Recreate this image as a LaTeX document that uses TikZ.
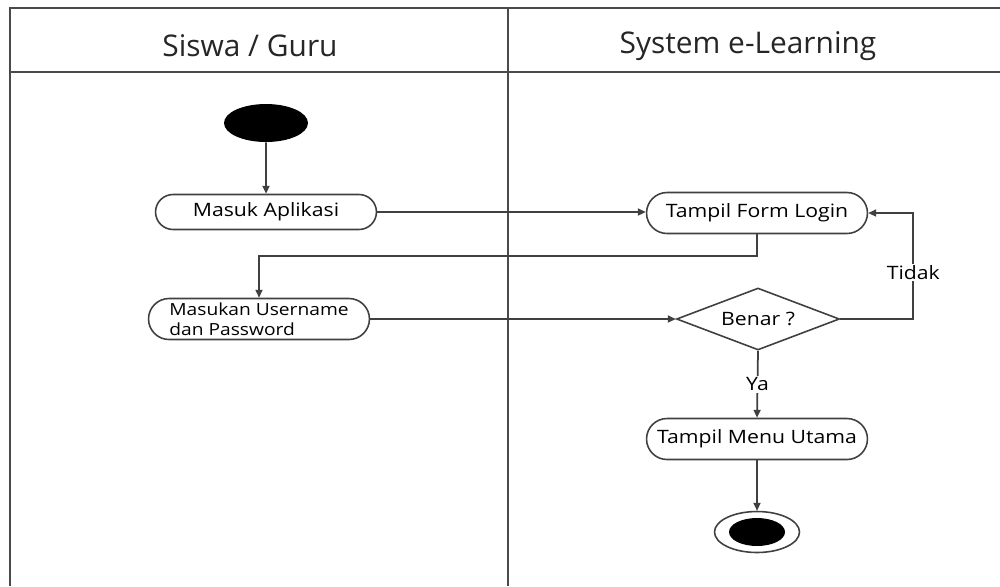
\documentclass[tikz,border=0pt]{standalone}
\usepackage{fontspec}
\setmainfont{Open Sans}
\newfontfamily\wideopen{Open Sans}[FakeStretch=1.15]
\usetikzlibrary{arrows.meta, shapes.geometric, shapes.misc, positioning}

\definecolor{linegray}{HTML}{404040}
\definecolor{framegray}{HTML}{4A4A4A}

\tikzset{
  lane/.style={draw=framegray, line width=1.3pt},
  lanetitle/.style={font=\fontsize{17}{20}\selectfont, text=black!85},
  activity/.style={rounded rectangle, draw=linegray, line width=0.9pt, fill=white,
    minimum width=4.56cm, minimum height=0.82cm, inner sep=2pt,
    font=\wideopen\fontsize{10.5}{12.5}\selectfont},
  decision/.style={diamond, draw=linegray, line width=0.9pt, fill=white, shape aspect=2.6,
    minimum width=3.26cm, minimum height=1.24cm, inner sep=0pt,
    font=\wideopen\fontsize{10.5}{12.5}\selectfont},
  startnode/.style={ellipse, fill=black, minimum width=1.68cm, minimum height=0.76cm},
  endring/.style={ellipse, draw=linegray, line width=0.9pt, minimum width=1.7cm, minimum height=0.82cm},
  enddot/.style={ellipse, fill=black, minimum width=1.12cm, minimum height=0.56cm},
  flow/.style={draw=linegray, line width=1pt, -{Triangle[length=4.5pt, width=4pt]}},
  flowlabel/.style={fill=white, inner sep=1pt, font=\wideopen\fontsize{10.5}{12.5}\selectfont}
}

\begin{document}
\begin{tikzpicture}[x=0.02cm, y=-0.02cm]
  \useasboundingbox (0,0) rectangle (1000,586);

  % Lanes
  \draw[lane] (1000,8) -- (10,8) -- (10,586);
  \draw[lane] (10,72) -- (1000,72);
  \draw[lane] (508,8) -- (508,586);
  \node[lanetitle] (siswa) at (250,46) {Siswa / Guru};
  \node[lanetitle] (sistem) at (748,46) {System e-Learning};

  % Nodes
  \node[startnode] (mulai) at (266,123) {};
  \node[activity, minimum height=0.7cm] (masuk) at (266,212) {Masuk Aplikasi};
  \node[activity] (form) at (757,213) {Tampil Form Login};
  \node[activity, align=left, font=\wideopen\fontsize{9.5}{11.5}\selectfont] (login) at (259,319)
    {Masukan Username\\dan Password};
  \node[decision] (benar) at (758,319) {Benar ?};
  \node[activity] (menu) at (757,439) {Tampil Menu Utama};
  \node[endring] (selesai) at (757,532) {};
  \node[enddot] (selesaidot) at (selesai) {};

  % Flows
  \draw[flow] (mulai) -- (masuk);
  \draw[flow] (masuk.east) -- (masuk.east -| form.west);
  \draw[flow] (form.south) -- ++(0,22) -| (login.north);
  \draw[flow] (login.east) -- (benar.west);
  \draw[flow] (benar.east) -- ++(73,0) |- node[pos=0.22, flowlabel] {Tidak} (form.east);
  \draw[flow] (benar.south) -- node[flowlabel] {Ya} (menu.north);
  \draw[flow] (menu.south) -- (selesai.north);

\end{tikzpicture}
\end{document}
